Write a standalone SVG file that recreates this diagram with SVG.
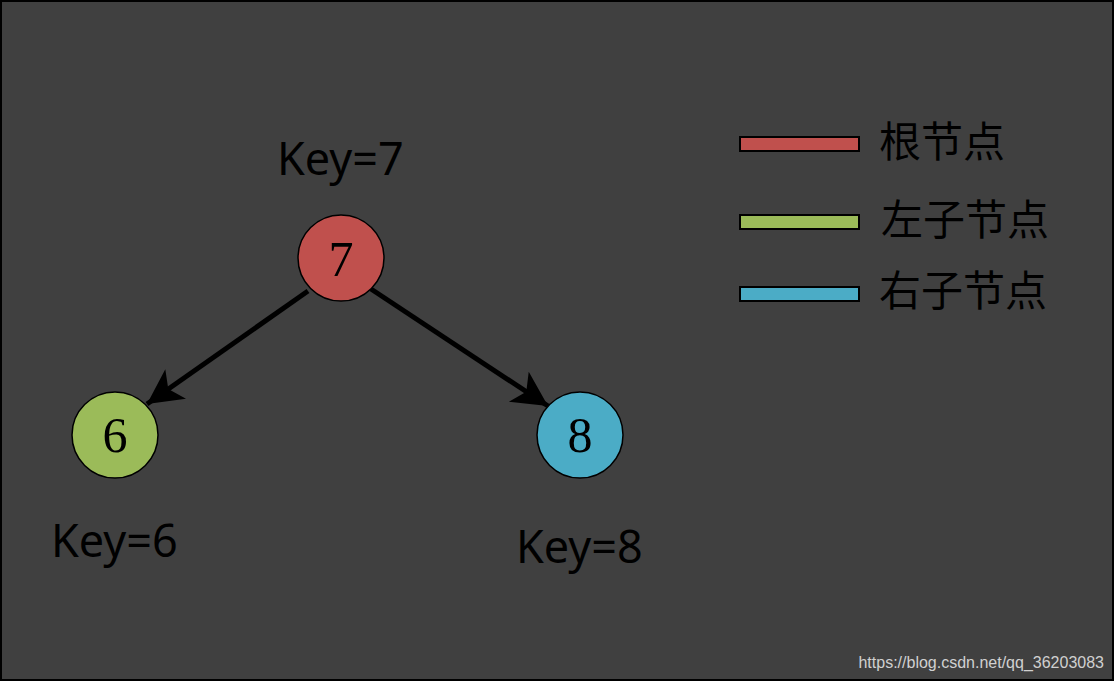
<svg xmlns="http://www.w3.org/2000/svg" width="1115" height="682" viewBox="0 0 1115 682">
<style>
.node{stroke:#000;stroke-width:1.5}
.num{font-family:"Liberation Serif","DejaVu Serif",serif;font-size:50px;fill:#000;text-anchor:middle}
.key{font-family:"Noto Sans","Open Sans",sans-serif;font-size:45px;fill:#000}
.leg{font-family:"Noto Sans CJK SC",sans-serif;font-size:42px;fill:#000}
.sw{stroke:#000;stroke-width:2}
.edge{stroke:#000;stroke-width:5;fill:none}
</style>
<defs>
<marker id="arr" markerWidth="8" markerHeight="8" refX="7" refY="3.6" orient="auto" markerUnits="strokeWidth">
<path d="M0,0 L7,3.6 L0,7.2 L1.8,3.6 Z" fill="#000"/>
</marker>
</defs>
<rect x="0" y="0" width="1115" height="682" fill="#fff"/>
<rect x="1" y="1" width="1112" height="679" fill="#404040" stroke="#000" stroke-width="2"/>
<g id="connectors">
<line class="edge" x1="308" y1="291" x2="147" y2="404" marker-end="url(#arr)"/>
<line class="edge" x1="371" y1="289" x2="548" y2="406" marker-end="url(#arr)"/>
</g>
<g id="node7">
<circle class="node" cx="341" cy="258" r="43" fill="#c0504d"/>
<text class="num" x="341" y="276">7</text>
<text class="key" x="277" y="175">Key=7</text>
</g>
<g id="node6">
<circle class="node" cx="115" cy="435" r="43" fill="#9bbb59"/>
<text class="num" x="115" y="452">6</text>
<text class="key" x="51" y="557">Key=6</text>
</g>
<g id="node8">
<circle class="node" cx="580" cy="435" r="43" fill="#4bacc6"/>
<text class="num" x="580" y="452">8</text>
<text class="key" x="516" y="563">Key=8</text>
</g>
<g id="legend">
<rect class="sw" x="740" y="137" width="119" height="14" fill="#c0504d"/>
<text class="leg" x="879" y="157">根节点</text>
<rect class="sw" x="740" y="215" width="119" height="14" fill="#9bbb59"/>
<text class="leg" x="881" y="235">左子节点</text>
<rect class="sw" x="740" y="287" width="119" height="14" fill="#4bacc6"/>
<text class="leg" x="879" y="306">右子节点</text>
</g>
<text x="1104" y="668" text-anchor="end" font-family="Liberation Sans,Arial,sans-serif" font-size="16" fill="#d0d0d0">https://blog.csdn.net/qq_36203083</text>
</svg>
